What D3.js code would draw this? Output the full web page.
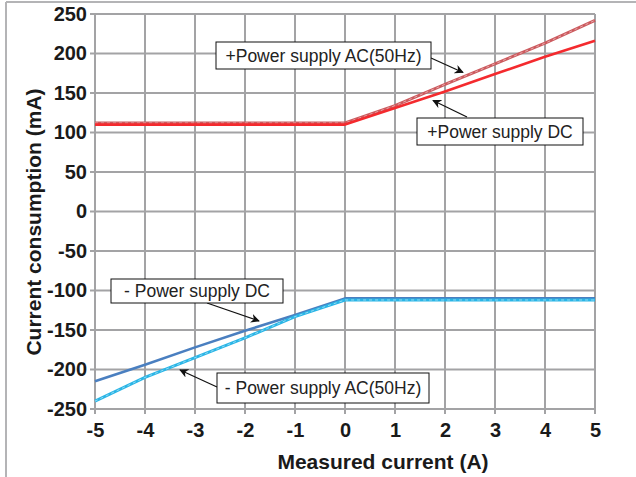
<!DOCTYPE html>
<html>
<head>
<meta charset="utf-8">
<script src="https://cdn.jsdelivr.net/npm/d3@7"></script>
<style>
  html, body { margin: 0; padding: 0; background: #fff; }
  svg { display: block; }
</style>
</head>
<body>
<svg id="chart" width="636" height="477"></svg>
<script>
const xValues = [-5, -4, -3, -2, -1, 0, 1, 2, 3, 4, 5];
const posDC = [110, 110, 110, 110, 110, 110, 131, 152, 174, 196, 216];
const posAC = [112, 112, 112, 112, 112, 112, 134, 161, 187, 213, 242];
const negDC = [-215, -194, -172, -151, -131, -110, -110, -110, -110, -110, -110];
const negAC = [-240, -210, -185, -160, -133, -112, -112, -112, -112, -112, -112];
const xTicks = [-5, -4, -3, -2, -1, 0, 1, 2, 3, 4, 5];
const yTicks = [250, 200, 150, 100, 50, 0, -50, -100, -150, -200, -250];
const xTitle = "Measured current (A)";
const yTitle = "Current consumption (mA)";
const calloutTexts = [
  "+Power supply AC(50Hz)",
  "+Power supply DC",
  "- Power supply DC",
  "- Power supply AC(50Hz)"
];

const svg = d3.select("#chart");
const x = d3.scaleLinear().domain([-5, 5]).range([95, 595]);
const y = d3.scaleLinear().domain([-250, 250]).range([409, 14]);
const gridColor = "#a3a3a5";
const font = "'Liberation Sans', Arial, sans-serif";

// outer frame (top and left edges)
svg.append("line").attr("x1", 6).attr("x2", 636).attr("y1", 2).attr("y2", 2)
  .attr("stroke", "#b4b4b6").attr("stroke-width", 2);
svg.append("line").attr("x1", 6).attr("x2", 6).attr("y1", 2).attr("y2", 477)
  .attr("stroke", "#b4b4b6").attr("stroke-width", 2);

// grid
const grid = svg.append("g");
grid.selectAll(".vg").data(xTicks).join("line")
  .attr("x1", d => x(d)).attr("x2", d => x(d))
  .attr("y1", y(250)).attr("y2", y(-250) + 5)
  .attr("stroke", gridColor).attr("stroke-width", 2);
grid.selectAll(".hg").data(yTicks).join("line")
  .attr("x1", x(-5) - 5).attr("x2", x(5))
  .attr("y1", d => y(d)).attr("y2", d => y(d))
  .attr("stroke", gridColor).attr("stroke-width", 2);

// axes labels via d3 axes
const yAxis = svg.append("g").attr("transform", `translate(${x(-5)},0)`)
  .call(d3.axisLeft(y).tickValues(yTicks).tickSize(0).tickPadding(8).tickFormat(d => String(d)));
yAxis.select(".domain").remove();
yAxis.selectAll("text").attr("font-family", font).attr("font-weight", "bold")
  .attr("font-size", 20).attr("fill", "#1a1a1a");

const xAxis = svg.append("g").attr("transform", `translate(0,${y(-250)})`)
  .call(d3.axisBottom(x).tickValues(xTicks).tickSize(0).tickPadding(14).tickFormat(d => String(d)));
xAxis.select(".domain").remove();
xAxis.selectAll("text").attr("font-family", font).attr("font-weight", "bold")
  .attr("font-size", 20).attr("fill", "#1a1a1a");

svg.append("text").attr("x", 383).attr("y", 469).attr("text-anchor", "middle")
  .attr("font-family", font).attr("font-weight", "bold").attr("font-size", 21)
  .attr("fill", "#1a1a1a").text(xTitle);
svg.append("text").attr("transform", `translate(41,222) rotate(-90)`)
  .attr("text-anchor", "middle")
  .attr("font-family", font).attr("font-weight", "bold").attr("font-size", 21)
  .attr("fill", "#1a1a1a").text(yTitle);

// series
const line = d3.line().x((d, i) => x(xValues[i])).y(d => y(d));
const plot = svg.append("g");
function drawSolid(vals, color) {
  plot.append("path").datum(vals).attr("d", line).attr("fill", "none")
    .attr("stroke", color).attr("stroke-width", 2.6).attr("stroke-linejoin", "round");
}
function drawDashed(vals, color) {
  plot.append("path").datum(vals).attr("d", line).attr("fill", "none")
    .attr("stroke", color).attr("stroke-width", 3).attr("stroke-linejoin", "round");
  plot.append("path").datum(vals).attr("d", line).attr("fill", "none")
    .attr("stroke", "#ffffff").attr("stroke-opacity", 0.55).attr("stroke-width", 0.9)
    .attr("stroke-dasharray", "3,3");
}
drawDashed(posAC, "#cc5a5e");
drawSolid(posDC, "#f42a2e");
drawSolid(negDC, "#4a7fc0");
drawDashed(negAC, "#2ab5e6");

// callouts
const boxes = [
  { x0: 216, y0: 42, x1: 431, y1: 69, ax: 431, ay: 58, tx: 463, ty: 72.5 },
  { x0: 417, y0: 118, x1: 583, y1: 145, ax: 467, ay: 117, tx: 433, ty: 100.5 },
  { x0: 111, y0: 279, x1: 283, y1: 303, ax: 207, ay: 303, tx: 259, ty: 321 },
  { x0: 217, y0: 373, x1: 429, y1: 403, ax: 217, ay: 387, tx: 180, ty: 370 }
];
svg.append("defs").append("marker").attr("id", "arr")
  .attr("viewBox", "0 0 10 10").attr("refX", 9).attr("refY", 5)
  .attr("markerWidth", 9).attr("markerHeight", 9).attr("markerUnits", "userSpaceOnUse")
  .attr("orient", "auto")
  .append("path").attr("d", "M0,0 L10,5 L0,10 L3,5 Z").attr("fill", "#111");

const cg = svg.append("g");
calloutTexts.forEach((t, i) => {
  const b = boxes[i];
  cg.append("line").attr("x1", b.ax).attr("y1", b.ay).attr("x2", b.tx).attr("y2", b.ty)
    .attr("stroke", "#111").attr("stroke-width", 1.2).attr("marker-end", "url(#arr)");
  cg.append("rect").attr("x", b.x0).attr("y", b.y0)
    .attr("width", b.x1 - b.x0).attr("height", b.y1 - b.y0)
    .attr("fill", "#fff").attr("stroke", "#111").attr("stroke-width", 1);
  cg.append("text").attr("x", (b.x0 + b.x1) / 2).attr("y", (b.y0 + b.y1) / 2 + 6)
    .attr("text-anchor", "middle").attr("font-family", font).attr("font-size", 17.5)
    .attr("fill", "#222").text(t);
});
</script>
</body>
</html>
